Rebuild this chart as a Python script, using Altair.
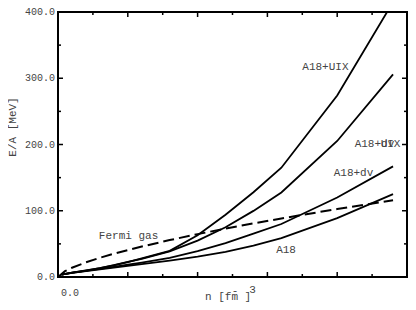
import altair as alt
import pandas as pd

# ---- data ----
n_vals = [0.01, 0.04, 0.08, 0.12, 0.16, 0.20, 0.24, 0.32, 0.40, 0.48, 0.56, 0.64, 0.80, 0.96]
e_a18 = [3.5, 6.2, 9.0, 11.6, 14.1, 16.7, 19.4, 24.8, 30.8, 38.0, 47.5, 58.7, 89.0, 125.0]
e_a18dv = [3.5, 6.3, 9.4, 12.3, 15.3, 18.5, 21.8, 29.0, 39.0, 51.0, 65.5, 80.0, 120.0, 167.0]
e_a18dvuix = [3.5, 6.45, 9.65, 13.3, 17.9, 22.9, 27.5, 38.8, 55.0, 75.1, 99.8, 127.6, 205.3, 305.9]
e_a18uix = [3.5, 6.45, 9.8, 13.5, 17.5, 22.5, 28.0, 39.5, 63.0, 94.0, 128.0, 165.0, 274.0, 415.0]

fermi_n = [0.0, 0.02, 0.04, 0.08, 0.12, 0.16, 0.20, 0.24, 0.32, 0.40, 0.48, 0.56, 0.64, 0.80, 0.96]
fermi_e = [0.0, 8.8, 13.9, 22.1, 29.0, 35.1, 40.7, 46.0, 55.7, 64.7, 73.0, 80.9, 88.4, 102.6, 115.9]

label_text = ["A18+UIX", "A18+dv", "A18+dv", "Fermi gas", "A18"]
label_n = [0.70, 0.85, 0.79, 0.117, 0.625]
label_e = [316.8, 200.7, 156.3, 61.4, 41.5]
overprint_text = ["UIX"]
overprint_n = [0.85]
overprint_e = [200.7]

y_tick_labels = [0, 100, 200, 300, 400]
y_minor = [50, 150, 250, 350]
x_tick_labels = [0.0]
x_major = [0.2, 0.4, 0.6, 0.8]
x_minor = [0.1, 0.3, 0.5, 0.7, 0.9]

W, H = 349, 265
FONT = "Liberation Mono"
TXT = "#444444"

xs = alt.Scale(domain=[0, 1.0], nice=False)
ys = alt.Scale(domain=[0, 400], nice=False)

def X(f):
    return alt.X(f, type="quantitative", scale=xs, axis=None)

def Y(f):
    return alt.Y(f, type="quantitative", scale=ys, axis=None)

rows = []
for name, vals in [("A18", e_a18), ("A18+dv", e_a18dv), ("A18+dv+UIX", e_a18dvuix), ("A18+UIX", e_a18uix)]:
    for n, e in zip(n_vals, vals):
        rows.append({"n": n, "E": e, "series": name})
df_lines = pd.DataFrame(rows)
df_fermi = pd.DataFrame({"n": fermi_n, "E": fermi_e})

solid = alt.Chart(df_lines).mark_line(color="black", strokeWidth=1.8, clip=True).encode(
    x=X("n"), y=Y("E"), detail="series:N")

dashed = alt.Chart(df_fermi).mark_line(color="black", strokeWidth=2, strokeDash=[11, 5], clip=True).encode(
    x=X("n"), y=Y("E"))

df_lab = pd.DataFrame({"n": label_n, "E": label_e, "t": label_text})
labels = alt.Chart(df_lab).mark_text(align="left", baseline="middle", font=FONT, fontSize=11, color=TXT).encode(
    x=X("n"), y=Y("E"), text="t:N")
df_ov = pd.DataFrame({"n": overprint_n, "E": overprint_e, "t": overprint_text})
over = alt.Chart(df_ov).mark_text(align="left", baseline="middle", font=FONT, fontSize=11, color=TXT, dx=26).encode(
    x=X("n"), y=Y("E"), text="t:N")

# tick labels (text from the tick arrays, positioned through the scales)
ylabels = alt.Chart(pd.DataFrame({"v": y_tick_labels})).mark_text(
    align="right", baseline="middle", font=FONT, fontSize=10, color=TXT).encode(
    y=Y("v"), x=alt.value(-3), text=alt.Text("v:Q", format=".1f"))
xlabels = alt.Chart(pd.DataFrame({"v": x_tick_labels})).mark_text(
    align="center", baseline="middle", font=FONT, fontSize=10, color=TXT, dx=12).encode(
    x=X("v"), y=alt.value(280.5), text=alt.Text("v:Q", format=".1f"))

def yticks(vals, xc, size):
    return alt.Chart(pd.DataFrame({"v": vals})).mark_tick(
        orient="horizontal", color="black", size=size, thickness=1.5, opacity=1).encode(
        y=Y("v"), x=alt.value(xc))

def xticks(vals, yc, size):
    return alt.Chart(pd.DataFrame({"v": vals})).mark_tick(
        orient="vertical", color="black", size=size, thickness=1.5, opacity=1).encode(
        x=X("v"), y=alt.value(yc))

ticks = [
    yticks(y_tick_labels, 2.5, 5), yticks(y_minor, 1.5, 3),
    yticks(y_tick_labels, W - 2.5, 5), yticks(y_minor, W - 1.5, 3),
    xticks(x_major, H - 2.5, 5), xticks(x_minor, H - 1.5, 3),
    xticks(x_major, 2.5, 5), xticks(x_minor, 1.5, 3),
]

def txt(s, x, y, **kw):
    return alt.Chart(pd.DataFrame({"t": [s]})).mark_text(font=FONT, color=TXT, **kw).encode(
        x=alt.value(x), y=alt.value(y), text="t:N")

titles = [
    txt("E/A [MeV]", -45, 115, angle=270, align="center", baseline="middle", fontSize=11),
    txt("n [fm ]", 147, 288, align="left", baseline="alphabetic", fontSize=11),
    txt("-", 177, 278.5, align="center", baseline="middle", fontSize=11),
    txt("3", 194.5, 277.5, align="center", baseline="middle", fontSize=11),
]

chart = alt.layer(solid, dashed, labels, over, ylabels, xlabels, *ticks, *titles).properties(
    width=W, height=H,
    padding={"left": 50, "top": 4, "right": 1, "bottom": 25},
    autosize=alt.AutoSizeParams(type="none"),
).configure_view(stroke="black", strokeWidth=2)

chart.save("out.html", embed_options={"renderer": "svg", "actions": False})
